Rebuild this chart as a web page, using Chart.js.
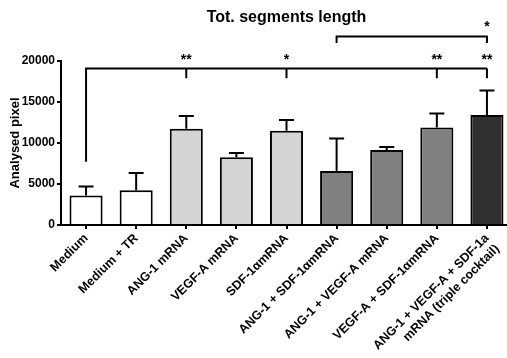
<!DOCTYPE html>
<html>
<head>
<meta charset="utf-8">
<script src="https://cdn.jsdelivr.net/npm/chart.js@4"></script>
<style>
html,body{margin:0;padding:0;background:#fff;overflow:hidden;}
#wrap{position:relative;width:515px;height:358px;}
</style>
</head>
<body>
<div id="wrap"><canvas id="c"></canvas></div>
<script>
const categories = [
  "Medium", "Medium + TR", "ANG-1 mRNA", "VEGF-A mRNA", "SDF-1\u03B1mRNA",
  "ANG-1 + SDF-1\u03B1mRNA", "ANG-1 + VEGF-A mRNA", "VEGF-A + SDF-1\u03B1mRNA",
  ["ANG-1 + VEGF-A + SDF-1a", "mRNA (triple cocktail)"]
];
const means = [3600, 4250, 11750, 8250, 11500, 6600, 9150, 11900, 13400];
const sems  = [1100, 2100, 1550, 530, 1300, 3950, 360, 1700, 3000];
const barColors = ["#ffffff", "#ffffff", "#d4d4d4", "#d4d4d4", "#d4d4d4", "#808080", "#808080", "#808080", "#303030"];
const yTicks = [0, 5000, 10000, 15000, 20000];

// significance: bracket from index "from" at level, drops to "dropTo", marks on indices
const bracketMain = { from: 0, fromBottom: 7700, level: 19100, drop: 17900, starsY: 20450,
  marks: [2, 4, 7, 8], stars: ["**", "*", "**", "**"] };
const bracketTop = { from: 5, to: 8, level: 23000, drop: 22200, starsY: 24500, star: "*" };

const FONT = "'Liberation Sans', Arial, sans-serif";

const annot = {
  id: 'annot',
  afterDatasetsDraw(chart) {
    const ctx = chart.ctx, x = chart.scales.x, y = chart.scales.y;
    ctx.save();
    ctx.strokeStyle = '#000';
    ctx.lineWidth = 2;
    ctx.lineCap = 'butt';
    // error bars
    means.forEach((m, i) => {
      const cx = x.getPixelForValue(i);
      const y0 = y.getPixelForValue(m), y1 = y.getPixelForValue(m + sems[i]);
      ctx.beginPath();
      ctx.moveTo(cx, y0); ctx.lineTo(cx, y1);
      ctx.moveTo(cx - 7.5, y1); ctx.lineTo(cx + 7.5, y1);
      ctx.stroke();
    });
    // main bracket
    const bl = y.getPixelForValue(bracketMain.level);
    const lx = x.getPixelForValue(bracketMain.from);
    const rx = x.getPixelForValue(bracketMain.marks[bracketMain.marks.length - 1]);
    ctx.beginPath();
    ctx.moveTo(lx, y.getPixelForValue(bracketMain.fromBottom));
    ctx.lineTo(lx, bl);
    ctx.lineTo(rx, bl);
    ctx.stroke();
    ctx.fillStyle = '#000';
    ctx.font = "bold 14px " + FONT;
    ctx.textAlign = 'center';
    ctx.textBaseline = 'middle';
    bracketMain.marks.forEach((k, j) => {
      const mx = x.getPixelForValue(k);
      ctx.beginPath();
      ctx.moveTo(mx, bl); ctx.lineTo(mx, y.getPixelForValue(bracketMain.drop));
      ctx.stroke();
      ctx.fillText(bracketMain.stars[j], mx, y.getPixelForValue(bracketMain.starsY) + 3);
    });
    // top bracket
    const tl = y.getPixelForValue(bracketTop.level);
    const tx1 = x.getPixelForValue(bracketTop.from), tx2 = x.getPixelForValue(bracketTop.to);
    const td = y.getPixelForValue(bracketTop.drop);
    ctx.beginPath();
    ctx.moveTo(tx1, td); ctx.lineTo(tx1, tl); ctx.lineTo(tx2, tl); ctx.lineTo(tx2, td);
    ctx.stroke();
    ctx.fillText(bracketTop.star, tx2, y.getPixelForValue(bracketTop.starsY) + 3);
    ctx.restore();
  }
};

new Chart(document.getElementById('c'), {
  type: 'bar',
  data: {
    labels: categories,
    datasets: [{
      data: means,
      backgroundColor: barColors,
      borderColor: '#000',
      borderWidth: 2,
      barPercentage: 0.66,
      categoryPercentage: 1.0
    }]
  },
  options: {
    responsive: true,
    maintainAspectRatio: false,
    animation: false,
    layout: { padding: { left: 0, right: 3, top: 0, bottom: 0 } },
    plugins: {
      legend: { display: false },
      tooltip: { enabled: false },
      title: {
        display: true,
        text: 'Tot. segments length',
        fullSize: false,
        color: '#000',
        font: { family: FONT, size: 16, weight: 'bold', lineHeight: 1.2 },
        padding: { top: 8.4, bottom: 33.4 }
      }
    },
    scales: {
      x: {
        afterFit(s) { s.height = 133; },
        grid: { display: true, offset: false, drawOnChartArea: false, drawTicks: true, tickLength: 4, color: '#000', lineWidth: 2 },
        border: { display: true, color: '#000', width: 2 },
        ticks: {
          color: '#000', maxRotation: 45, minRotation: 45, autoSkip: false, padding: 2,
          font: { family: FONT, size: 12.5, weight: 'bold' }
        }
      },
      y: {
        min: 0, max: 20000,
        afterFit(s) { s.width = 61; },
        afterBuildTicks(s) { s.ticks = yTicks.map(v => ({ value: v })); },
        grid: { display: true, drawOnChartArea: false, drawTicks: true, tickLength: 4, color: '#000', lineWidth: 2 },
        border: { display: true, color: '#000', width: 2 },
        ticks: {
          color: '#000', padding: 2,
          font: { family: FONT, size: 12, weight: 'bold' },
          callback: v => String(v)
        },
        title: {
          display: true, text: 'Analysed pixel', color: '#000',
          font: { family: FONT, size: 13, weight: 'bold', lineHeight: 1.2 },
          padding: { top: 8, bottom: 0 }
        }
      }
    }
  },
  plugins: [annot]
});
</script>
</body>
</html>
